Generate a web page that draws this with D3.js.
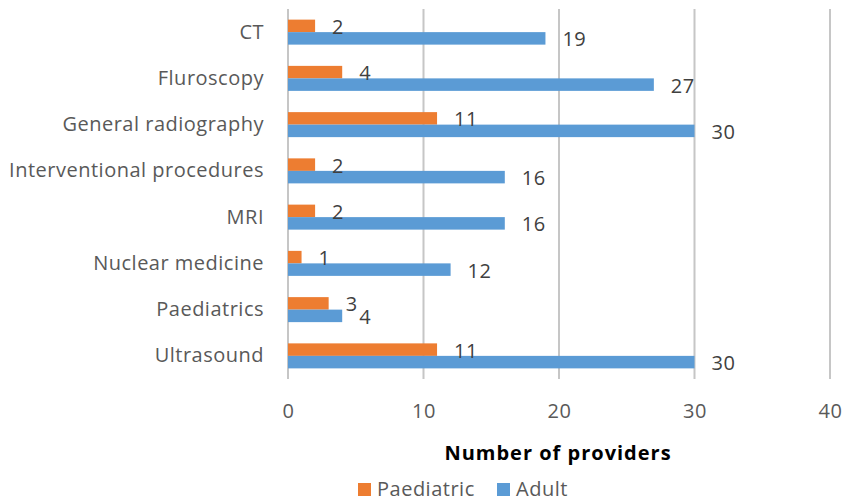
<!DOCTYPE html>
<html>
<head>
<meta charset="utf-8">
<script src="https://cdn.jsdelivr.net/npm/d3@7"></script>
<style>
  body { margin: 0; background: #fff; }
  text { font-family: "Open Sans", "Noto Sans", sans-serif; }
</style>
</head>
<body>
<div id="chart"></div>
<script>
// data
var categories = ["CT", "Fluroscopy", "General radiography", "Interventional procedures",
                  "MRI", "Nuclear medicine", "Paediatrics", "Ultrasound"];
var paediatric = [2, 4, 11, 2, 2, 1, 3, 11];
var adult = [19, 27, 30, 16, 16, 12, 4, 30];
var seriesNames = ["Paediatric", "Adult"];
var xTicks = [0, 10, 20, 30, 40];

var w = 845, h = 502;
var colors = {"Paediatric": "#ED7D31", "Adult": "#5B9BD5"};

var svg = d3.select("#chart").append("svg")
    .attr("width", w)
    .attr("height", h);

//scales
var xScale = d3.scaleLinear().domain([0, 40]).range([288, 830]);
var yScale = d3.scaleBand().domain(categories).range([9, 379]).paddingInner(0).paddingOuter(0);
var inner = d3.scaleBand().domain(seriesNames)
    .range([yScale.bandwidth() / 2 - 12.5, yScale.bandwidth() / 2 + 12.5]);

//gridlines
svg.append("g").selectAll("line")
    .data(xTicks)
    .enter().append("line")
    .attr("x1", function(d) { return xScale(d); })
    .attr("x2", function(d) { return xScale(d); })
    .attr("y1", 9)
    .attr("y2", 379)
    .attr("stroke", "#C6C6C6")
    .attr("stroke-width", 2);

//x axis tick labels
var xAxis = d3.axisBottom(xScale).tickValues(xTicks).tickSize(0).tickPadding(0);
var gx = svg.append("g").attr("transform", "translate(0,418)").call(xAxis);
gx.select(".domain").remove();
gx.selectAll("text")
    .attr("dy", 0)
    .attr("font-size", 20)
    .attr("letter-spacing", 0.5)
    .attr("fill", "#595959")
    .style("font-family", "'Open Sans', sans-serif");

//y axis category labels
var yAxis = d3.axisLeft(yScale).tickSize(0).tickPadding(24);
var gy = svg.append("g").attr("transform", "translate(288,0)").call(yAxis);
gy.select(".domain").remove();
gy.selectAll("text")
    .attr("font-size", 20)
    .attr("letter-spacing", 0.5)
    .attr("fill", "#595959")
    .style("font-family", "'Open Sans', sans-serif");

//bars
var rows = categories.map(function(c, i) {
    return {cat: c, vals: [{s: "Paediatric", v: paediatric[i]}, {s: "Adult", v: adult[i]}]};
});

var groups = svg.append("g").selectAll("g")
    .data(rows)
    .enter().append("g")
    .attr("transform", function(d) { return "translate(0," + yScale(d.cat) + ")"; });

groups.selectAll("rect")
    .data(function(d) { return d.vals; })
    .enter().append("rect")
    .attr("x", xScale(0))
    .attr("y", function(d) { return inner(d.s); })
    .attr("width", function(d) { return xScale(d.v) - xScale(0); })
    .attr("height", inner.bandwidth())
    .attr("fill", function(d) { return colors[d.s]; });

//value labels
groups.selectAll("text")
    .data(function(d) { return d.vals; })
    .enter().append("text")
    .attr("x", function(d) { return xScale(d.v) + 17; })
    .attr("y", function(d) { return inner(d.s) + inner.bandwidth() / 2 + 8; })
    .attr("font-size", 20)
    .attr("letter-spacing", 0.5)
    .attr("fill", "#404040")
    .text(function(d) { return d.v; });

//axis title
svg.append("text")
    .attr("x", 558)
    .attr("y", 460)
    .attr("text-anchor", "middle")
    .attr("font-size", 20)
    .attr("letter-spacing", 1)
    .attr("font-weight", "bold")
    .attr("fill", "#000")
    .text("Number of providers");

//legend
var legendX = [358, 497];
var legend = svg.append("g").selectAll("g")
    .data(seriesNames)
    .enter().append("g")
    .attr("transform", function(d, i) { return "translate(" + legendX[i] + ",483)"; });

legend.append("rect")
    .attr("width", 13)
    .attr("height", 13)
    .attr("fill", function(d) { return colors[d]; });

legend.append("text")
    .attr("x", 19)
    .attr("y", 13)
    .attr("font-size", 20)
    .attr("letter-spacing", 0.5)
    .attr("fill", "#595959")
    .text(function(d) { return d; });
</script>
</body>
</html>
